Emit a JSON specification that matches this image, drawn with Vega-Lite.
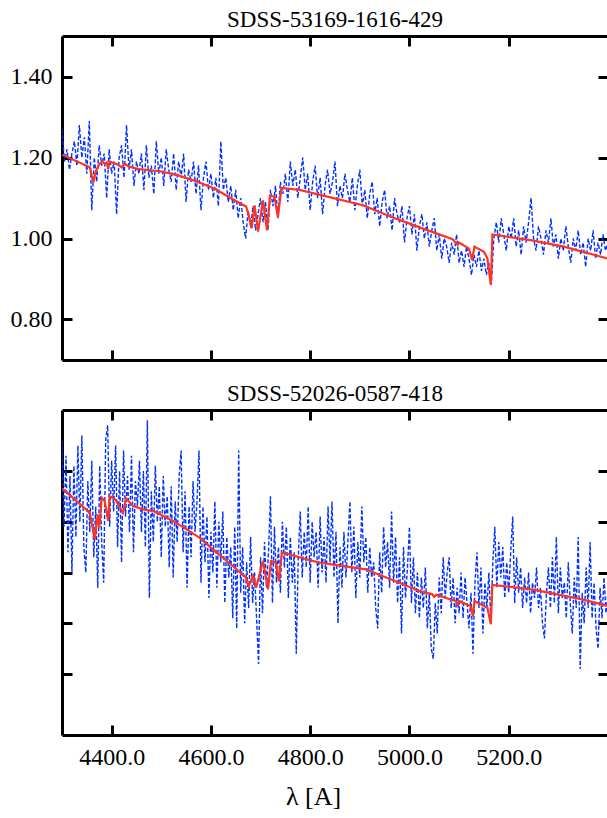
{
"$schema": "https://vega.github.io/schema/vega-lite/v6.json",
"background": "white",
"padding": {"left": 10, "top": 8, "right": 0, "bottom": 0},
"spacing": 20,
"config": {
  "font": "Liberation Serif",
  "view": {"stroke": null},
  "axis": {"domainColor": "black", "domainWidth": 3, "tickColor": "black", "tickWidth": 3, "tickSize": -10, "grid": false, "labelFont": "Liberation Serif", "labelFontSize": 24, "labelColor": "black", "titleFont": "Liberation Serif", "titleFontSize": 26, "titleFontWeight": "normal", "titleColor": "black"},
  "title": {"font": "Liberation Serif", "fontSize": 23, "fontWeight": "normal", "color": "black", "offset": 3}
},
"datasets": {
  "obs1": [
{"w":4300,"f":1.27},{"w":4305,"f":1.19},{"w":4310,"f":1.22},{"w":4315,"f":1.17},{"w":4320,"f":1.21},{"w":4325,"f":1.24},{"w":4330,"f":1.18},{"w":4335,"f":1.28},{"w":4340,"f":1.20},{"w":4345,"f":1.25},
{"w":4350,"f":1.16},{"w":4355,"f":1.29},{"w":4360,"f":1.07},{"w":4365,"f":1.20},{"w":4370,"f":1.14},{"w":4375,"f":1.23},{"w":4380,"f":1.18},{"w":4385,"f":1.21},{"w":4390,"f":1.10},{"w":4395,"f":1.22},
{"w":4400,"f":1.16},{"w":4405,"f":1.19},{"w":4410,"f":1.06},{"w":4415,"f":1.20},{"w":4420,"f":1.23},{"w":4425,"f":1.15},{"w":4430,"f":1.28},{"w":4435,"f":1.17},{"w":4440,"f":1.22},{"w":4445,"f":1.13},
{"w":4450,"f":1.19},{"w":4455,"f":1.16},{"w":4460,"f":1.21},{"w":4465,"f":1.12},{"w":4470,"f":1.23},{"w":4475,"f":1.15},{"w":4480,"f":1.18},{"w":4485,"f":1.11},{"w":4490,"f":1.24},{"w":4495,"f":1.16},
{"w":4500,"f":1.20},{"w":4505,"f":1.13},{"w":4510,"f":1.22},{"w":4515,"f":1.17},{"w":4520,"f":1.14},{"w":4525,"f":1.21},{"w":4530,"f":1.12},{"w":4535,"f":1.19},{"w":4540,"f":1.15},{"w":4545,"f":1.21},
{"w":4550,"f":1.09},{"w":4555,"f":1.17},{"w":4560,"f":1.14},{"w":4565,"f":1.19},{"w":4570,"f":1.11},{"w":4575,"f":1.18},{"w":4580,"f":1.07},{"w":4585,"f":1.15},{"w":4590,"f":1.19},{"w":4595,"f":1.12},
{"w":4600,"f":1.16},{"w":4605,"f":1.10},{"w":4610,"f":1.15},{"w":4615,"f":1.08},{"w":4620,"f":1.24},{"w":4625,"f":1.12},{"w":4630,"f":1.15},{"w":4635,"f":1.09},{"w":4640,"f":1.13},{"w":4645,"f":1.07},
{"w":4650,"f":1.12},{"w":4655,"f":1.05},{"w":4660,"f":1.10},{"w":4665,"f":1.04},{"w":4670,"f":1.00},{"w":4675,"f":1.07},{"w":4680,"f":1.03},{"w":4685,"f":1.08},{"w":4690,"f":1.02},{"w":4695,"f":1.06},
{"w":4700,"f":1.10},{"w":4705,"f":1.04},{"w":4710,"f":1.09},{"w":4715,"f":1.02},{"w":4720,"f":1.12},{"w":4725,"f":1.08},{"w":4730,"f":1.13},{"w":4735,"f":1.05},{"w":4740,"f":1.14},{"w":4745,"f":1.11},
{"w":4750,"f":1.16},{"w":4755,"f":1.09},{"w":4760,"f":1.19},{"w":4765,"f":1.13},{"w":4770,"f":1.17},{"w":4775,"f":1.10},{"w":4780,"f":1.15},{"w":4785,"f":1.20},{"w":4790,"f":1.12},{"w":4795,"f":1.16},
{"w":4800,"f":1.07},{"w":4805,"f":1.14},{"w":4810,"f":1.18},{"w":4815,"f":1.10},{"w":4820,"f":1.15},{"w":4825,"f":1.06},{"w":4830,"f":1.13},{"w":4835,"f":1.17},{"w":4840,"f":1.11},{"w":4845,"f":1.14},
{"w":4850,"f":1.19},{"w":4855,"f":1.08},{"w":4860,"f":1.13},{"w":4865,"f":1.10},{"w":4870,"f":1.16},{"w":4875,"f":1.12},{"w":4880,"f":1.09},{"w":4885,"f":1.15},{"w":4890,"f":1.07},{"w":4895,"f":1.13},
{"w":4900,"f":1.17},{"w":4905,"f":1.08},{"w":4910,"f":1.12},{"w":4915,"f":1.05},{"w":4920,"f":1.11},{"w":4925,"f":1.14},{"w":4930,"f":1.06},{"w":4935,"f":1.10},{"w":4940,"f":1.03},{"w":4945,"f":1.09},
{"w":4950,"f":1.12},{"w":4955,"f":1.05},{"w":4960,"f":1.08},{"w":4965,"f":1.02},{"w":4970,"f":1.10},{"w":4975,"f":1.06},{"w":4980,"f":1.04},{"w":4985,"f":1.08},{"w":4990,"f":0.99},{"w":4995,"f":1.05},
{"w":5000,"f":1.08},{"w":5005,"f":1.01},{"w":5010,"f":1.06},{"w":5015,"f":0.97},{"w":5020,"f":1.03},{"w":5025,"f":1.06},{"w":5030,"f":1.00},{"w":5035,"f":1.04},{"w":5040,"f":0.98},{"w":5045,"f":1.02},
{"w":5050,"f":1.05},{"w":5055,"f":0.97},{"w":5060,"f":1.01},{"w":5065,"f":0.95},{"w":5070,"f":1.00},{"w":5075,"f":0.98},{"w":5080,"f":0.94},{"w":5085,"f":0.99},{"w":5090,"f":0.96},{"w":5095,"f":1.01},
{"w":5100,"f":0.94},{"w":5105,"f":0.97},{"w":5110,"f":0.93},{"w":5115,"f":0.98},{"w":5120,"f":0.95},{"w":5125,"f":0.91},{"w":5130,"f":0.96},{"w":5135,"f":0.93},{"w":5140,"f":0.97},{"w":5145,"f":0.92},
{"w":5150,"f":0.95},{"w":5155,"f":0.91},{"w":5160,"f":0.94},{"w":5165,"f":0.89},{"w":5170,"f":1.00},{"w":5175,"f":1.04},{"w":5180,"f":0.99},{"w":5185,"f":1.05},{"w":5190,"f":1.01},{"w":5195,"f":0.97},
{"w":5200,"f":1.03},{"w":5205,"f":1.00},{"w":5210,"f":1.05},{"w":5215,"f":0.98},{"w":5220,"f":1.02},{"w":5225,"f":0.96},{"w":5230,"f":1.03},{"w":5235,"f":0.99},{"w":5240,"f":1.04},{"w":5245,"f":1.10},
{"w":5250,"f":1.00},{"w":5255,"f":0.97},{"w":5260,"f":1.03},{"w":5265,"f":1.00},{"w":5270,"f":0.96},{"w":5275,"f":1.02},{"w":5280,"f":0.99},{"w":5285,"f":1.05},{"w":5290,"f":0.98},{"w":5295,"f":1.01},
{"w":5300,"f":0.95},{"w":5305,"f":1.00},{"w":5310,"f":0.97},{"w":5315,"f":1.03},{"w":5320,"f":0.98},{"w":5325,"f":0.94},{"w":5330,"f":1.00},{"w":5335,"f":0.97},{"w":5340,"f":1.02},{"w":5345,"f":0.96},
{"w":5350,"f":0.99},{"w":5355,"f":0.93},{"w":5360,"f":1.00},{"w":5365,"f":0.97},{"w":5370,"f":1.02},{"w":5375,"f":0.95},{"w":5380,"f":0.99},{"w":5385,"f":0.96},{"w":5390,"f":1.01},{"w":5395,"f":0.97},
{"w":5400,"f":0.99}
  ],
  "mod1": [
{"w":4300,"f":1.207},{"w":4356,"f":1.176},{"w":4363,"f":1.138},{"w":4368,"f":1.165},{"w":4375,"f":1.184},{"w":4382,"f":1.19},{"w":4386,"f":1.184},{"w":4390,"f":1.188},{"w":4393,"f":1.172},{"w":4396,"f":1.19},
{"w":4413,"f":1.182},{"w":4420,"f":1.176},{"w":4427,"f":1.184},{"w":4433,"f":1.179},{"w":4450,"f":1.172},{"w":4497,"f":1.166},{"w":4531,"f":1.157},{"w":4571,"f":1.141},{"w":4608,"f":1.123},{"w":4648,"f":1.094},
{"w":4671,"f":1.079},{"w":4678,"f":1.049},{"w":4682,"f":1.025},{"w":4688,"f":1.082},{"w":4695,"f":1.017},{"w":4705,"f":1.094},{"w":4713,"f":1.020},{"w":4719,"f":1.106},{"w":4728,"f":1.103},{"w":4735,"f":1.053},
{"w":4742,"f":1.125},{"w":4778,"f":1.12},{"w":4839,"f":1.102},{"w":4906,"f":1.082},{"w":4973,"f":1.049},{"w":5026,"f":1.025},{"w":5087,"f":0.998},{"w":5097,"f":0.984},{"w":5100,"f":0.99},{"w":5120,"f":0.975},
{"w":5126,"f":0.947},{"w":5131,"f":0.98},{"w":5150,"f":0.967},{"w":5157,"f":0.951},{"w":5164,"f":0.885},{"w":5167,"f":1.01},{"w":5244,"f":0.996},{"w":5311,"f":0.98},{"w":5377,"f":0.958},{"w":5400,"f":0.95}
  ],
  "obs2": [
{"w":4300,"f":33.0},{"w":4304,"f":24.5},{"w":4308,"f":31.5},{"w":4312,"f":22.0},{"w":4316,"f":29.5},{"w":4320,"f":20.0},{"w":4324,"f":30.5},{"w":4328,"f":23.5},{"w":4332,"f":32.5},{"w":4336,"f":25.0},
{"w":4340,"f":33.5},{"w":4344,"f":22.5},{"w":4348,"f":20.0},{"w":4352,"f":29.0},{"w":4356,"f":24.0},{"w":4360,"f":31.0},{"w":4364,"f":21.5},{"w":4368,"f":26.5},{"w":4372,"f":18.5},{"w":4376,"f":30.5},
{"w":4380,"f":23.0},{"w":4384,"f":19.0},{"w":4388,"f":33.0},{"w":4392,"f":34.5},{"w":4396,"f":24.5},{"w":4400,"f":31.0},{"w":4404,"f":26.0},{"w":4408,"f":32.5},{"w":4412,"f":22.5},{"w":4416,"f":30.0},
{"w":4420,"f":21.0},{"w":4424,"f":32.0},{"w":4428,"f":25.5},{"w":4432,"f":29.5},{"w":4436,"f":24.0},{"w":4440,"f":31.5},{"w":4444,"f":22.0},{"w":4448,"f":29.0},{"w":4452,"f":26.5},{"w":4456,"f":31.0},
{"w":4460,"f":24.0},{"w":4464,"f":30.0},{"w":4468,"f":22.5},{"w":4472,"f":35.0},{"w":4476,"f":17.5},{"w":4480,"f":28.0},{"w":4484,"f":23.0},{"w":4488,"f":30.5},{"w":4492,"f":25.0},{"w":4496,"f":28.5},
{"w":4500,"f":21.5},{"w":4504,"f":29.5},{"w":4508,"f":24.5},{"w":4512,"f":27.5},{"w":4516,"f":20.5},{"w":4520,"f":28.5},{"w":4524,"f":19.5},{"w":4528,"f":27.0},{"w":4532,"f":23.0},{"w":4536,"f":29.5},
{"w":4540,"f":32.0},{"w":4544,"f":22.0},{"w":4548,"f":28.0},{"w":4552,"f":18.5},{"w":4556,"f":26.5},{"w":4560,"f":21.5},{"w":4564,"f":29.0},{"w":4568,"f":24.0},{"w":4572,"f":27.0},{"w":4576,"f":32.0},
{"w":4580,"f":19.0},{"w":4584,"f":26.5},{"w":4588,"f":21.0},{"w":4592,"f":25.5},{"w":4596,"f":17.5},{"w":4600,"f":24.0},{"w":4604,"f":20.0},{"w":4608,"f":27.0},{"w":4612,"f":18.5},{"w":4616,"f":25.0},
{"w":4620,"f":21.0},{"w":4624,"f":26.0},{"w":4628,"f":17.0},{"w":4632,"f":23.5},{"w":4636,"f":19.5},{"w":4640,"f":22.5},{"w":4644,"f":15.5},{"w":4648,"f":24.5},{"w":4652,"f":14.5},{"w":4656,"f":32.0},
{"w":4660,"f":18.0},{"w":4664,"f":22.5},{"w":4668,"f":15.0},{"w":4672,"f":21.0},{"w":4676,"f":16.5},{"w":4680,"f":23.5},{"w":4684,"f":17.0},{"w":4688,"f":20.0},{"w":4692,"f":15.5},{"w":4696,"f":11.0},
{"w":4700,"f":21.5},{"w":4704,"f":16.0},{"w":4708,"f":23.0},{"w":4712,"f":18.5},{"w":4716,"f":22.0},{"w":4720,"f":27.5},{"w":4724,"f":17.0},{"w":4728,"f":24.5},{"w":4732,"f":19.0},{"w":4736,"f":22.5},
{"w":4740,"f":18.0},{"w":4744,"f":25.0},{"w":4748,"f":20.5},{"w":4752,"f":24.5},{"w":4756,"f":17.5},{"w":4760,"f":23.5},{"w":4764,"f":19.0},{"w":4768,"f":22.0},{"w":4772,"f":12.0},{"w":4776,"f":21.5},
{"w":4780,"f":26.0},{"w":4784,"f":19.5},{"w":4788,"f":24.0},{"w":4792,"f":20.5},{"w":4796,"f":26.5},{"w":4800,"f":19.0},{"w":4804,"f":25.0},{"w":4808,"f":21.5},{"w":4812,"f":24.0},{"w":4816,"f":18.5},
{"w":4820,"f":25.5},{"w":4824,"f":20.0},{"w":4828,"f":23.5},{"w":4832,"f":19.0},{"w":4836,"f":26.5},{"w":4840,"f":21.0},{"w":4844,"f":27.0},{"w":4848,"f":19.5},{"w":4852,"f":24.0},{"w":4856,"f":15.0},
{"w":4860,"f":22.5},{"w":4864,"f":18.5},{"w":4868,"f":24.0},{"w":4872,"f":19.5},{"w":4876,"f":23.0},{"w":4880,"f":27.0},{"w":4884,"f":20.0},{"w":4888,"f":24.5},{"w":4892,"f":17.5},{"w":4896,"f":23.0},
{"w":4900,"f":19.5},{"w":4904,"f":26.5},{"w":4908,"f":21.0},{"w":4912,"f":23.5},{"w":4916,"f":18.0},{"w":4920,"f":22.5},{"w":4924,"f":19.5},{"w":4928,"f":21.0},{"w":4932,"f":16.5},{"w":4936,"f":14.5},
{"w":4940,"f":22.0},{"w":4944,"f":18.0},{"w":4948,"f":24.5},{"w":4952,"f":20.5},{"w":4956,"f":23.0},{"w":4960,"f":18.5},{"w":4964,"f":26.0},{"w":4968,"f":19.0},{"w":4972,"f":23.5},{"w":4976,"f":17.0},
{"w":4980,"f":21.5},{"w":4984,"f":14.0},{"w":4988,"f":22.5},{"w":4992,"f":17.5},{"w":4996,"f":20.5},{"w":5000,"f":24.5},{"w":5004,"f":17.0},{"w":5008,"f":21.5},{"w":5012,"f":16.0},{"w":5016,"f":20.0},
{"w":5020,"f":15.5},{"w":5024,"f":19.5},{"w":5028,"f":16.5},{"w":5032,"f":20.5},{"w":5036,"f":14.5},{"w":5040,"f":18.0},{"w":5044,"f":12.5},{"w":5048,"f":11.5},{"w":5052,"f":17.0},{"w":5056,"f":14.0},
{"w":5060,"f":19.5},{"w":5064,"f":16.0},{"w":5068,"f":21.5},{"w":5072,"f":17.5},{"w":5076,"f":20.0},{"w":5080,"f":21.5},{"w":5084,"f":16.5},{"w":5088,"f":19.5},{"w":5092,"f":15.0},{"w":5096,"f":18.5},
{"w":5100,"f":16.0},{"w":5104,"f":20.0},{"w":5108,"f":15.5},{"w":5112,"f":19.5},{"w":5116,"f":17.0},{"w":5120,"f":14.5},{"w":5124,"f":18.0},{"w":5128,"f":12.0},{"w":5132,"f":19.0},{"w":5136,"f":22.0},
{"w":5140,"f":16.5},{"w":5144,"f":20.5},{"w":5148,"f":14.0},{"w":5152,"f":19.0},{"w":5156,"f":16.5},{"w":5160,"f":20.0},{"w":5164,"f":15.0},{"w":5168,"f":21.0},{"w":5172,"f":24.5},{"w":5176,"f":18.5},
{"w":5180,"f":23.0},{"w":5184,"f":19.5},{"w":5188,"f":22.5},{"w":5192,"f":17.5},{"w":5196,"f":21.0},{"w":5200,"f":18.0},{"w":5204,"f":22.0},{"w":5208,"f":25.5},{"w":5212,"f":17.0},{"w":5216,"f":21.5},
{"w":5220,"f":18.0},{"w":5224,"f":20.5},{"w":5228,"f":16.5},{"w":5232,"f":19.5},{"w":5236,"f":17.0},{"w":5240,"f":20.0},{"w":5244,"f":16.0},{"w":5248,"f":19.0},{"w":5252,"f":17.5},{"w":5256,"f":20.5},
{"w":5260,"f":16.5},{"w":5264,"f":18.5},{"w":5268,"f":15.0},{"w":5272,"f":13.5},{"w":5276,"f":18.0},{"w":5280,"f":20.5},{"w":5284,"f":16.5},{"w":5288,"f":21.5},{"w":5292,"f":17.0},{"w":5296,"f":23.5},
{"w":5300,"f":16.0},{"w":5304,"f":20.5},{"w":5308,"f":17.5},{"w":5312,"f":19.0},{"w":5316,"f":15.5},{"w":5320,"f":21.0},{"w":5324,"f":17.0},{"w":5328,"f":14.0},{"w":5332,"f":19.5},{"w":5336,"f":16.5},
{"w":5340,"f":23.5},{"w":5344,"f":10.5},{"w":5348,"f":18.0},{"w":5352,"f":15.0},{"w":5356,"f":20.5},{"w":5360,"f":16.5},{"w":5364,"f":23.0},{"w":5368,"f":15.5},{"w":5372,"f":19.0},{"w":5376,"f":14.5},
{"w":5380,"f":12.5},{"w":5384,"f":18.5},{"w":5388,"f":15.5},{"w":5392,"f":19.5},{"w":5396,"f":16.0},{"w":5400,"f":18.0}
  ],
  "mod2": [
{"w":4300,"f":28.3},{"w":4356,"f":25.89},{"w":4366,"f":23.27},{"w":4372,"f":25.73},{"w":4375,"f":24.41},{"w":4380,"f":27.36},{"w":4386,"f":27.04},{"w":4393,"f":25.07},{"w":4396,"f":27.53},{"w":4407,"f":27.21},
{"w":4423,"f":25.89},{"w":4429,"f":27.30},{"w":4443,"f":26.55},{"w":4463,"f":26.22},{"w":4484,"f":26.06},{"w":4497,"f":25.73},{"w":4524,"f":25.07},{"w":4551,"f":24.25},{"w":4577,"f":23.43},{"w":4604,"f":22.28},
{"w":4644,"f":20.64},{"w":4671,"f":19.49},{"w":4676,"f":18.67},{"w":4685,"f":19.66},{"w":4691,"f":18.50},{"w":4705,"f":21.13},{"w":4715,"f":18.34},{"w":4721,"f":21.13},{"w":4731,"f":20.97},{"w":4737,"f":19.16},
{"w":4743,"f":21.95},{"w":4758,"f":21.79},{"w":4792,"f":21.30},{"w":4819,"f":20.97},{"w":4912,"f":20.31},{"w":5020,"f":18.18},{"w":5046,"f":17.85},{"w":5050,"f":17.6},{"w":5054,"f":17.8},{"w":5093,"f":17.19},
{"w":5097,"f":16.80},{"w":5100,"f":17.19},{"w":5123,"f":16.70},{"w":5128,"f":15.72},{"w":5131,"f":17.19},{"w":5157,"f":16.53},{"w":5164,"f":14.90},{"w":5167,"f":18.77},{"w":5247,"f":18.34},{"w":5348,"f":17.36},
{"w":5400,"f":16.7}
  ]
},
"vconcat": [
  {
    "title": "SDSS-53169-1616-429",
    "width": 546, "height": 324,
    "layer": [
      {"data": {"name": "obs1"},
       "mark": {"type": "line", "color": "#0030ff", "strokeWidth": 1.4, "strokeDash": [4, 2], "clip": true},
       "encoding": {
         "x": {"field": "w", "type": "quantitative", "scale": {"domain": [4300, 5400], "nice": false, "zero": false},
               "axis": {"orient": "bottom", "values": [4400, 4600, 4800, 5000, 5200], "labels": false, "title": null}},
         "y": {"field": "f", "type": "quantitative", "scale": {"domain": [0.7, 1.5], "nice": false, "zero": false},
               "axis": {"orient": "left", "values": [0.8, 1.0, 1.2, 1.4], "format": ".2f", "title": null, "labelPadding": 20}}}},
      {"data": {"name": "mod1"},
       "mark": {"type": "line", "color": "#ff3322", "strokeWidth": 2.2, "clip": true},
       "encoding": {
         "x": {"field": "w", "type": "quantitative", "scale": {"domain": [4300, 5400], "nice": false, "zero": false},
               "axis": {"orient": "top", "values": [4400, 4600, 4800, 5000, 5200], "labels": false, "title": null}},
         "y": {"field": "f", "type": "quantitative", "scale": {"domain": [0.7, 1.5], "nice": false, "zero": false},
               "axis": {"orient": "right", "values": [0.8, 1.0, 1.2, 1.4], "labels": false, "title": null, "domain": false}}}}
    ],
    "resolve": {"axis": {"x": "independent", "y": "independent"}}
  },
  {
    "title": "SDSS-52026-0587-418",
    "width": 546, "height": 325,
    "layer": [
      {"data": {"name": "obs2"},
       "mark": {"type": "line", "color": "#0030ff", "strokeWidth": 1.4, "strokeDash": [4, 2], "clip": true},
       "encoding": {
         "x": {"field": "w", "type": "quantitative", "scale": {"domain": [4300, 5400], "nice": false, "zero": false},
               "axis": {"orient": "bottom", "values": [4400, 4600, 4800, 5000, 5200], "format": ".1f", "labelPadding": 20, "title": "λ [A]", "titlePadding": 14, "titleX": 251}},
         "y": {"field": "f", "type": "quantitative", "scale": {"domain": [4, 36], "nice": false, "zero": false},
               "axis": {"orient": "left", "values": [10, 15, 20, 25, 30], "labels": false, "title": null}}}},
      {"data": {"name": "mod2"},
       "mark": {"type": "line", "color": "#ff3322", "strokeWidth": 2.2, "clip": true},
       "encoding": {
         "x": {"field": "w", "type": "quantitative", "scale": {"domain": [4300, 5400], "nice": false, "zero": false},
               "axis": {"orient": "top", "values": [4400, 4600, 4800, 5000, 5200], "labels": false, "title": null}},
         "y": {"field": "f", "type": "quantitative", "scale": {"domain": [4, 36], "nice": false, "zero": false},
               "axis": {"orient": "right", "values": [10, 15, 20, 25, 30], "labels": false, "title": null, "domain": false}}}}
    ],
    "resolve": {"axis": {"x": "independent", "y": "independent"}}
  }
]
}
